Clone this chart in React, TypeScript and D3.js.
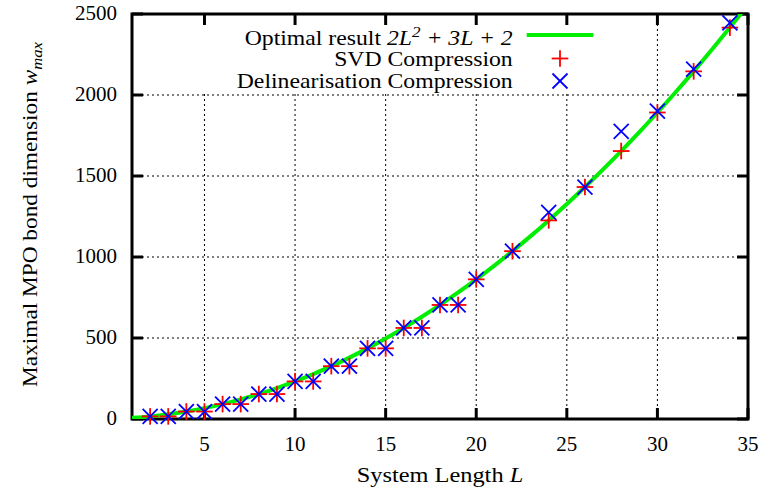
import React from "react";
import * as d3 from "d3";

// ---- data ----
const SYSTEM_L = [2, 3, 4, 5, 6, 7, 8, 9, 10, 11, 12, 13, 14, 15, 16, 17, 18, 19, 20, 22, 24, 26, 28, 30, 32, 34];
const SVD_W = [16, 16, 46, 46, 92, 92, 154, 154, 232, 232, 326, 326, 436, 436, 562, 562, 704, 704, 862, 1036, 1226, 1432, 1654, 1892, 2146, 2416];
const DELIN_W = [16, 16, 46, 46, 92, 92, 154, 154, 232, 232, 326, 326, 436, 436, 562, 562, 704, 704, 862, 1036, 1275, 1432, 1775, 1900, 2160, 2445];
const OPT_L = [1, 2, 3, 4, 5, 6, 7, 8, 9, 10, 11, 12, 13, 14, 15, 16, 17, 18, 19, 20, 21, 22, 23, 24, 25, 26, 27, 28, 29, 30, 31, 32, 33, 34, 35];
const OPT_W = [7, 16, 29, 46, 67, 92, 121, 154, 191, 232, 277, 326, 379, 436, 497, 562, 631, 704, 781, 862, 947, 1036, 1129, 1226, 1327, 1432, 1541, 1654, 1771, 1892, 2017, 2146, 2279, 2416, 2557];
const X_TICKS = [5, 10, 15, 20, 25, 30, 35];
const Y_TICKS = [0, 500, 1000, 1500, 2000, 2500];
const X_GRID = [5, 10, 15, 20, 25, 30];
const Y_GRID = [500, 1000, 1500, 2000];

const W = 761, H = 493;
const M = { left: 132, right: 748, top: 14, bottom: 419 };
const FONT = "'Liberation Serif', 'Times New Roman', serif";
const GREEN = "#00ee00";
const SX = 1.13; // horizontal stretch to mimic the wider Computer Modern face

export default function App() {
  const x = d3.scaleLinear().domain([1, 35]).range([M.left, M.right]);
  const y = d3.scaleLinear().domain([0, 2500]).range([M.bottom, M.top]);
  const line = d3.line<number>().x((_, i) => x(OPT_L[i])).y((d) => y(d)).curve(d3.curveMonotoneX);
  const tickLen = 11;

  const plus = (cx: number, cy: number, s: number, key: string) => (
    <g key={key} stroke="#ff0000" strokeWidth={1.8}>
      <line x1={cx - s} x2={cx + s} y1={cy} y2={cy} />
      <line x1={cx} x2={cx} y1={cy - s} y2={cy + s} />
    </g>
  );
  const cross = (cx: number, cy: number, s: number, key: string) => (
    <g key={key} stroke="#0000ff" strokeWidth={1.8}>
      <line x1={cx - s} x2={cx + s} y1={cy - s} y2={cy + s} />
      <line x1={cx - s} x2={cx + s} y1={cy + s} y2={cy - s} />
    </g>
  );

  return (
    <svg width={W} height={H} style={{ position: "absolute", left: 0, top: 0, background: "#fff" }} fontFamily={FONT}>
      <defs>
        <clipPath id="plotclip">
          <rect x={M.left} y={M.top} width={M.right - M.left} height={M.bottom - M.top} />
        </clipPath>
      </defs>
      {/* grid */}
      <g stroke="#000" strokeWidth={1} strokeDasharray="2,3">
        {X_GRID.map((t) => (
          <line key={"gx" + t} x1={x(t)} x2={x(t)} y1={M.top} y2={M.bottom} />
        ))}
        {Y_GRID.map((t) => (
          <line key={"gy" + t} x1={M.left} x2={M.right} y1={y(t)} y2={y(t)} />
        ))}
      </g>
      {/* opaque key box */}
      <rect x={136} y={17} width={470} height={y(2000) - 17 - 1} fill="#fff" />
      {/* ticks */}
      <g stroke="#000" strokeWidth={3}>
        {X_TICKS.map((t) => (
          <g key={"tx" + t}>
            <line x1={x(t)} x2={x(t)} y1={M.bottom} y2={M.bottom - tickLen} />
            <line x1={x(t)} x2={x(t)} y1={M.top} y2={M.top + tickLen} />
          </g>
        ))}
        {Y_TICKS.map((t) => (
          <g key={"ty" + t}>
            <line x1={M.left} x2={M.left + tickLen} y1={y(t)} y2={y(t)} />
            <line x1={M.right} x2={M.right - tickLen} y1={y(t)} y2={y(t)} />
          </g>
        ))}
      </g>
      {/* border */}
      <rect x={M.left} y={M.top} width={M.right - M.left} height={M.bottom - M.top} fill="none" stroke="#000" strokeWidth={3} />
      {/* tick labels */}
      <g fontSize={21} fill="#000">
        {X_TICKS.map((t) => (
          <text key={"lx" + t} x={x(t)} y={451} textAnchor="middle">{t}</text>
        ))}
        {Y_TICKS.map((t) => (
          <text key={"ly" + t} x={117} y={y(t) + 6} textAnchor="end">{t}</text>
        ))}
      </g>
      {/* axis labels */}
      <g transform={`translate(${(M.left + M.right) / 2},482) scale(1.16,1)`}>
        <text x={0} y={0} textAnchor="middle" fontSize={21}>
          System Length <tspan fontStyle="italic">L</tspan>
        </text>
      </g>
      <g transform={`translate(37,${(M.top + M.bottom) / 2 - 2}) rotate(-90) scale(1.11,1)`}>
        <text x={0} y={0} textAnchor="middle" fontSize={21}>
          Maximal MPO bond dimension <tspan fontStyle="italic">w</tspan>
          <tspan fontStyle="italic" fontSize={15} dy={5}>max</tspan>
        </text>
      </g>
      {/* curve */}
      <path d={line(OPT_W) || ""} fill="none" stroke={GREEN} strokeWidth={4} clipPath="url(#plotclip)" />
      {/* markers */}
      {SYSTEM_L.map((l, i) => plus(x(l), y(SVD_W[i]), 8.3, "p" + l))}
      {SYSTEM_L.map((l, i) => cross(x(l), y(DELIN_W[i]), 7.5, "c" + l))}
      {/* legend */}
      <g fontSize={21} fill="#000" textAnchor="end">
        <g transform={`translate(512.7,45) scale(${SX},1)`}>
          <text x={0} y={0}>
            Optimal result <tspan fontStyle="italic">2L</tspan>
            <tspan fontStyle="italic" fontSize={15} dy={-8}>2</tspan>
            <tspan fontStyle="italic" dy={8}> + 3L + 2</tspan>
          </text>
        </g>
        <g transform={`translate(512.7,66) scale(${SX},1)`}>
          <text x={0} y={0}>SVD Compression</text>
        </g>
        <g transform={`translate(512.7,87.5) scale(${SX},1)`}>
          <text x={0} y={0}>Delinearisation Compression</text>
        </g>
      </g>
      <line x1={526.7} x2={593.3} y1={35} y2={35} stroke={GREEN} strokeWidth={4} />
      {plus(560, 58.5, 8.3, "legp")}
      {cross(560, 81, 7.5, "legc")}
    </svg>
  );
}
